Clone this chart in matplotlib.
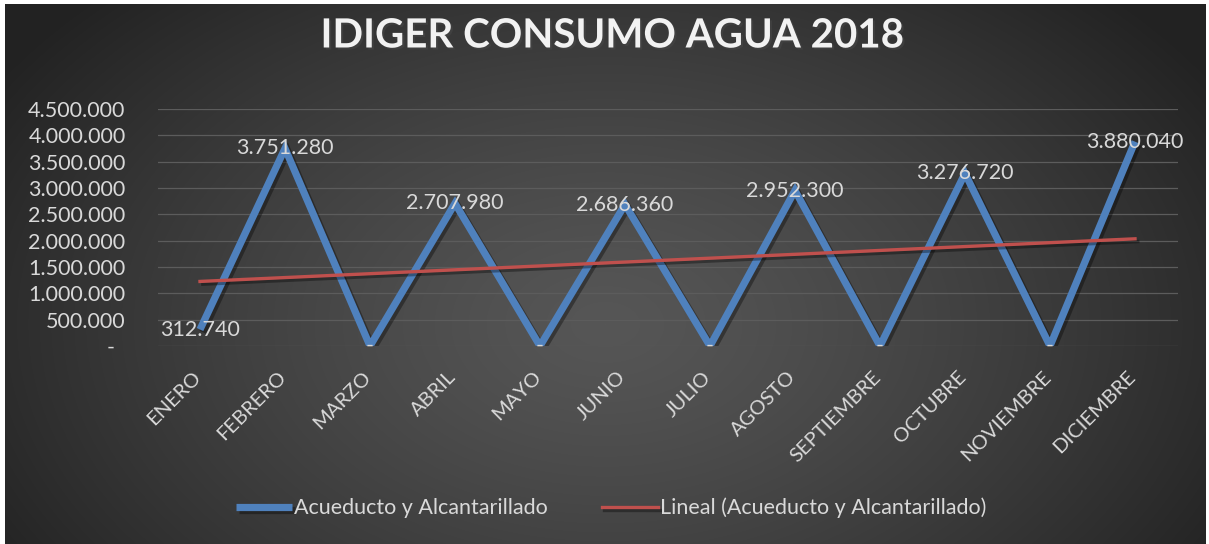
import numpy as np
import matplotlib
matplotlib.use("Agg")
import matplotlib.pyplot as plt
import matplotlib.patheffects as pe
from matplotlib.ticker import FuncFormatter, MultipleLocator
from matplotlib.transforms import ScaledTranslation

# ---------------- data ----------------
months = ["ENERO", "FEBRERO", "MARZO", "ABRIL", "MAYO", "JUNIO", "JULIO",
          "AGOSTO", "SEPTIEMBRE", "OCTUBRE", "NOVIEMBRE", "DICIEMBRE"]
consumo = [312740, 3751280, 0, 2707980, 0, 2686360, 0, 2952300, 0, 3276720, 0, 3880040]
title = "IDIGER CONSUMO AGUA 2018"
series_name = "Acueducto y Alcantarillado"
trend_name = "Lineal (Acueducto y Alcantarillado)"

W, H = 1209, 544
DPI = 100
FONT = "Lato"
TXT = "#d9d9d9"
BLUE = "#4f81bd"
RED = "#c0504d"

def fmt(v):
    if v == 0:
        return "-  "
    return f"{int(round(v)):,}".replace(",", ".")

fig = plt.figure(figsize=(W / DPI, H / DPI), dpi=DPI, facecolor="white")

# background radial gradient
bg = fig.add_axes([5 / W, 0, (1206 - 5) / W, (H - 4) / H])
bg.set_axis_off()
yy, xx = np.mgrid[0:540, 0:1201]
d = np.sqrt(((xx - 600) / 720.0) ** 2 + ((yy - 320) / 470.0) ** 2)
v = 0x56 - (0x56 - 0x22) * np.clip(d, 0, 1) ** 1.3
img = np.dstack([v, v, v]) / 255.0
bg.imshow(img, aspect="auto", extent=[0, 1, 0, 1], interpolation="bilinear")
bg.set_xlim(0, 1)
bg.set_ylim(0, 1)

# plot area
left, right = 157.5, 1177.5
top, bottom = 109, 346
ax = fig.add_axes([left / W, 1 - bottom / H, (right - left) / W, (bottom - top) / H])
ax.set_facecolor("none")
x = np.arange(len(months))
ax.set_xlim(-0.5, len(months) - 0.5)
ax.set_ylim(0, 4500000)
ax.yaxis.set_major_locator(MultipleLocator(500000))
ax.yaxis.set_major_formatter(FuncFormatter(lambda v, p: fmt(v)))
ax.grid(axis="y", color="#5c5c5c", linewidth=0.9)
ax.set_axisbelow(True)
for s in ax.spines.values():
    s.set_visible(False)
ax.tick_params(axis="y", length=0, pad=23, labelsize=15.5, labelcolor=TXT)
ax.tick_params(axis="x", length=0, pad=16, labelsize=14.5, labelcolor=TXT)
for lab in ax.get_yticklabels():
    lab.set_fontfamily(FONT)

ax.set_xticks(x)
ax.set_xticklabels(months, rotation=45, ha="right", rotation_mode="anchor", fontfamily=FONT)
off = ScaledTranslation(-8 / DPI, 0, fig.dpi_scale_trans)
for lab in ax.get_xticklabels():
    lab.set_transform(lab.get_transform() + off)

shadow = [pe.SimpleLineShadow(offset=(2, -2), alpha=0.35, shadow_color="black"), pe.Normal()]
l1, = ax.plot(x, consumo, color=BLUE, linewidth=5.2, solid_joinstyle="miter",
              solid_capstyle="butt", path_effects=shadow, label=series_name, zorder=3)
coef = np.polyfit(x, consumo, 1)
trend = np.polyval(coef, x)
l2, = ax.plot(x[[0, -1]], trend[[0, -1]], color=RED, linewidth=2.4,
              path_effects=shadow, label=trend_name, zorder=4)

for xi, yi in zip(x, consumo):
    ax.text(xi, yi, fmt(yi).strip(), ha="center", va="center", color=TXT,
            fontsize=15.5, fontfamily=FONT, zorder=5, clip_on=False)

fig.text(612 / W, 1 - 36 / H, title, ha="center", va="center", color="#f2f2f2",
         fontsize=29, fontweight="bold", fontfamily=FONT,
         path_effects=[pe.withSimplePatchShadow(offset=(1.5, -1.5), alpha=0.5)])

fig.legend(handles=[l1, l2], loc="center", bbox_to_anchor=(611 / W, 1 - 508 / H),
           ncol=2, frameon=False, handlelength=2.6, handletextpad=0.1,
           columnspacing=2.5, prop={"family": FONT, "size": 15.5}, labelcolor=TXT)

fig.savefig("out.png", dpi=DPI, facecolor="white")
